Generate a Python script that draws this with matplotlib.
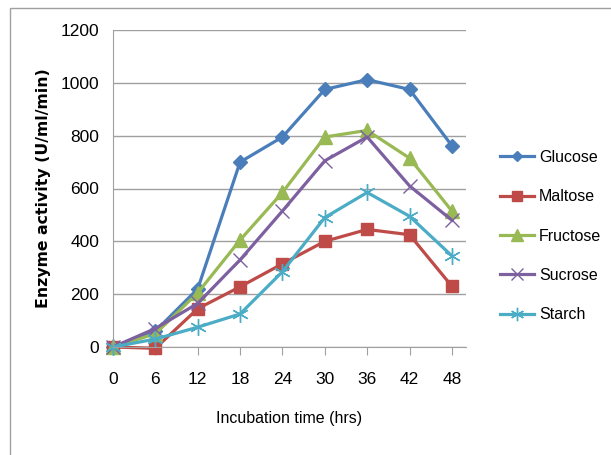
import matplotlib.pyplot as plt
from matplotlib.patches import Rectangle

hours = [0, 6, 12, 18, 24, 30, 36, 42, 48]
glucose = [0, 60, 220, 700, 795, 975, 1012, 975, 762]
maltose = [0, -5, 145, 228, 315, 400, 445, 425, 230]
fructose = [0, 50, 205, 405, 585, 795, 820, 715, 515]
sucrose = [0, 70, 165, 330, 515, 705, 795, 610, 480]
starch = [0, 30, 75, 125, 285, 490, 585, 495, 345]

narrow = ["Liberation Sans", "DejaVu Sans"]

fig = plt.figure(figsize=(6.11, 4.55), dpi=100)
fig.patches.append(Rectangle((10 / 611, -0.1), 1.2, 1 - 8 / 455 + 0.1,
                             transform=fig.transFigure, fill=False,
                             edgecolor="#a0a0a0", linewidth=1))
ax = fig.add_axes([113 / 611, 1 - 347 / 455, (466 - 113) / 611, (347 - 30) / 455])

series = [
    ("Glucose", glucose, "#4a7ebb", "D", 7, dict()),
    ("Maltose", maltose, "#be4b48", "s", 9, dict()),
    ("Fructose", fructose, "#98b954", "^", 10, dict()),
    ("Sucrose", sucrose, "#7d60a0", "x", 10, dict(markeredgewidth=1.0)),
    ("Starch", starch, "#4bacc6", (6, 2, 0), 12, dict(markeredgewidth=1.0)),
]
for name, vals, col, mk, ms, extra in series:
    ax.plot(hours, vals, color=col, linewidth=2.3, marker=mk, markersize=ms,
            markerfacecolor=col, markeredgecolor=col, label=name,
            clip_on=False, **extra)

ax.set_xlim(0, 50)
ax.set_ylim(0, 1200)
ax.set_yticks(range(0, 1201, 200))
ax.set_xticks(hours)
ax.grid(axis="y", color="#a0a0a0", linewidth=1)
ax.set_axisbelow(True)
for s in ["top", "right"]:
    ax.spines[s].set_visible(False)
ax.spines["left"].set_color("#a0a0a0")
ax.spines["bottom"].set_color("#a0a0a0")
ax.tick_params(axis="y", length=0, pad=10)
ax.tick_params(axis="x", length=6, color="#a0a0a0", pad=12)
for lab in ax.get_xticklabels() + ax.get_yticklabels():
    lab.set_family(narrow)
    lab.set_fontsize(12.5)

ax.set_xlabel("Incubation time (hrs)", family=narrow, fontsize=11.5, labelpad=17)
ax.set_ylabel("Enzyme activity (U/ml/min)", fontsize=11.3, fontweight="bold",
              labelpad=7)

leg = fig.legend(loc="upper left", bbox_to_anchor=(500 / 611, 1 - 150 / 455),
                 frameon=False, handlelength=2.15, labelspacing=1.52,
                 borderpad=0, borderaxespad=0, markerscale=0.8,
                 prop={"family": narrow, "size": 11.5}, handletextpad=0.3)

fig.savefig("out.png", dpi=100)
